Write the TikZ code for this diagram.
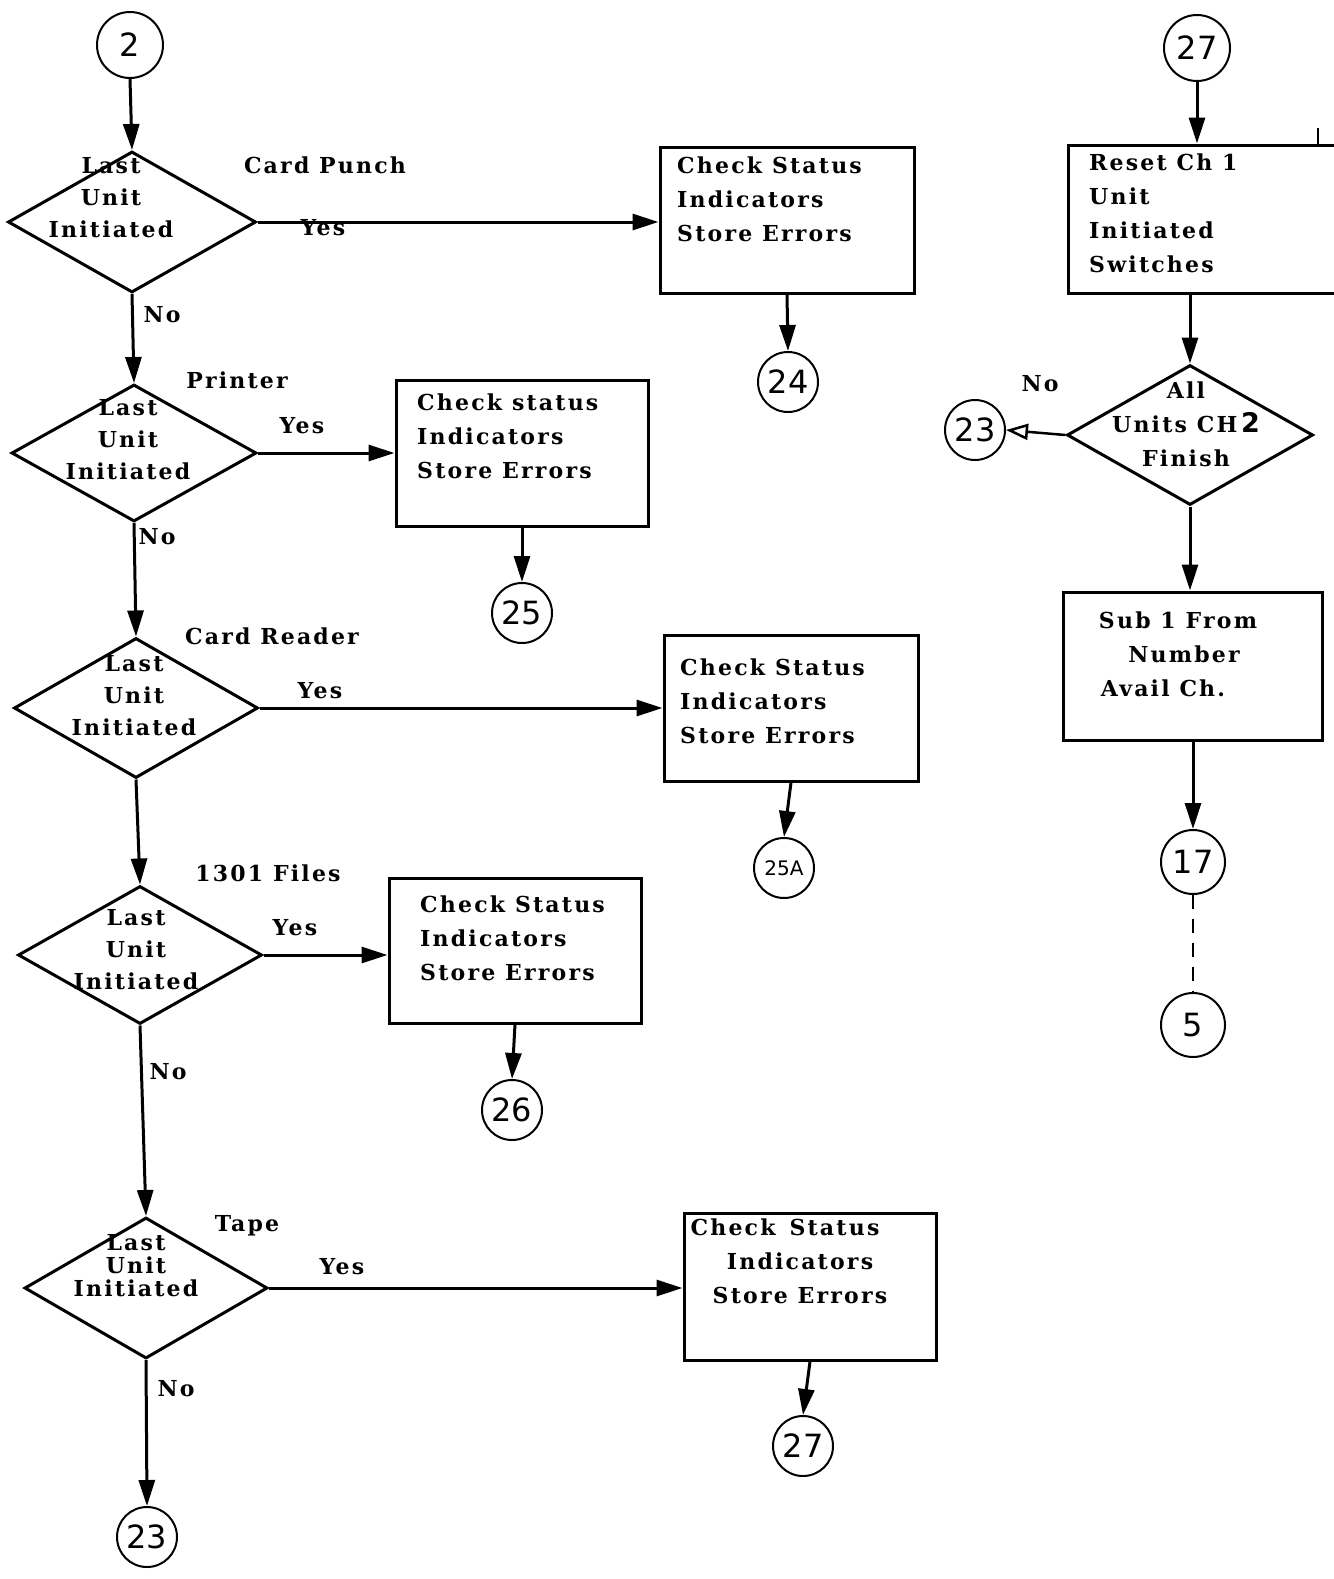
\documentclass[tikz,border=0pt]{standalone}
\usepackage{fontspec}
\setmainfont{DejaVu Serif}
\newfontfamily\lblfont[LetterSpace=10]{DejaVu Serif}
\newfontfamily\numfont{DejaVu Sans}
\usetikzlibrary{shapes.geometric,arrows.meta}
\begin{document}
\begin{tikzpicture}[x=1pt,y=-1pt,
  arr/.style={line width=3pt,-{Triangle[length=26pt,width=16pt]}},
  openarr/.style={line width=2.5pt,-{Triangle[open,length=22pt,width=16pt,line width=2.5pt]}},
  box/.style={draw,line width=3pt,rectangle,inner sep=0pt},
  dia/.style={draw,line width=3pt,diamond,inner sep=0pt},
  conn/.style={draw,circle,line width=2pt,inner sep=0pt,font=\numfont\fontsize{32}{32}\selectfont},
  txt/.style={font=\lblfont\bfseries\fontsize{22}{34}\selectfont,inner sep=0pt},
  dtxt/.style={font=\lblfont\bfseries\fontsize{22}{32}\selectfont,inner sep=0pt,align=center},
  ]
\useasboundingbox (0,0) rectangle (1333,1579);

% ---------- left column: diamonds ----------
\node[dia,minimum width=248pt,minimum height=141pt] (d1) at (132,222) {};
\node[dia,minimum width=245pt,minimum height=137pt] (d2) at (134,453) {};
\node[dia,minimum width=244pt,minimum height=140pt] (d3) at (136,708) {};
\node[dia,minimum width=244pt,minimum height=138pt] (d4) at (140,955) {};
\node[dia,minimum width=243pt,minimum height=141pt] (d5) at (146,1288) {};

\node[dtxt] (d1t) at (111,198) {Last\\Unit\\Initiated};
\node[dtxt] (d2t) at (128,440) {Last\\Unit\\Initiated};
\node[dtxt] (d3t) at (134,696) {Last\\Unit\\Initiated};
\node[dtxt] (d4t) at (136,950) {Last\\Unit\\Initiated};
\node[dtxt,font=\lblfont\bfseries\fontsize{22}{23}\selectfont] (d5t) at (136,1266) {Last\\Unit\\Initiated};

% ---------- boxes ----------
\node[box,minimum width=254pt,minimum height=146pt] (b1) at (787,220) {};
\node[box,minimum width=252pt,minimum height=146pt] (b2) at (522,453) {};
\node[box,minimum width=254pt,minimum height=146pt] (b3) at (791,708) {};
\node[box,minimum width=252pt,minimum height=145pt] (b4) at (515,950.5) {};
\node[box,minimum width=252pt,minimum height=147pt] (b5) at (810,1286.5) {};

\node[txt,align=left,anchor=north west] (b1t) at (677,157) {Check Status\\Indicators\\Store Errors};
\node[txt,align=left,anchor=north west] (b2t) at (417,394) {Check status\\Indicators\\Store Errors};
\node[txt,align=left,anchor=north west] (b3t) at (680,659) {Check Status\\Indicators\\Store Errors};
\node[txt,align=left,anchor=north west] (b4t) at (420,896) {Check Status\\Indicators\\Store Errors};
\node[txt,align=center,anchor=north] (b5t) at (800,1219) {Check\hspace{14pt}Status\hspace*{30pt}\\Indicators\\Store Errors};

% ---------- connectors (circles) ----------
\node[conn,minimum size=66pt] (c2) at (130,45) {2};
\node[conn,minimum size=60pt] (c24) at (788,382) {24};
\node[conn,minimum size=60pt] (c25) at (522,613) {25};
\node[conn,minimum size=60pt,font=\numfont\fontsize{20}{20}\selectfont] (c25a) at (784,868) {25A};
\node[conn,minimum size=60pt] (c26) at (512,1110) {26};
\node[conn,minimum size=60pt] (c27a) at (803,1446) {27};
\node[conn,minimum size=60pt] (c23a) at (147,1537) {23};

% ---------- labels ----------
\node[txt] (l1) at (325,165) {Card Punch};
\node[txt] (y1) at (323,228) {Yes};
\node[txt] (n1) at (162,315) {No};
\node[txt] (l2) at (237,380) {Printer};
\node[txt] (y2) at (302,426) {Yes};
\node[txt] (n2) at (157,537) {No};
\node[txt] (l3) at (272,636) {Card Reader};
\node[txt] (y3) at (320,691) {Yes};
\node[txt] (l4) at (268,873) {1301 Files};
\node[txt] (y4) at (295,928) {Yes};
\node[txt] (n4) at (168,1072) {No};
\node[txt] (l5) at (247,1226) {Tape};
\node[txt] (y5) at (342,1267) {Yes};
\node[txt] (n5) at (176,1389) {No};

% ---------- left column arrows ----------
\draw[arr] (c2.south) -- (d1.north);
\draw[arr] (d1.east) -- (d1.east -| b1.west);
\draw[arr] (b1.south) -- (c24.north);
\draw[arr] (d1.south) -- (d2.north);
\draw[arr] (d2.east) -- (d2.east -| b2.west);
\draw[arr] (b2.south) -- (c25.north);
\draw[arr] (d2.south) -- (d3.north);
\draw[arr] (d3.east) -- (d3.east -| b3.west);
\draw[arr] (b3.south) -- (c25a.north);
\draw[arr] (d3.south) -- (d4.north);
\draw[arr] (d4.east) -- (d4.east -| b4.west);
\draw[arr] (b4.south) -- (c26.north);
\draw[arr] (d4.south) -- (d5.north);
\draw[arr] (d5.east) -- (d5.east -| b5.west);
\draw[arr] (b5.south) -- (c27a.north);
\draw[arr] (d5.south) -- (c23a.north);

% ---------- right column ----------
\node[conn,minimum size=66pt] (c27b) at (1197,48) {27};
\node[box,minimum width=277pt,minimum height=148pt] (r1) at (1206.5,219) {};
\node[txt,align=left,anchor=north west] (r1t) at (1089,154) {Reset Ch 1\\Unit\\Initiated\\Switches};
\coordinate (tick1) at (1318,128);
\coordinate (tick2) at (1318,145);
\draw[line width=2pt] (tick1) -- (tick2);

\node[dia,minimum width=246pt,minimum height=140pt] (dr) at (1190,435) {};
\node[dtxt,font=\lblfont\bfseries\fontsize{22}{34}\selectfont] (drt) at (1186,424) {All\\Units CH\,{\numfont\bfseries\fontsize{27}{27}\selectfont 2}\\Finish};
\node[txt] (nr) at (1040,384) {No};
\node[conn,minimum size=60pt] (c23b) at (975,430) {23};

\node[box,minimum width=259pt,minimum height=148pt] (r2) at (1192.5,666) {};
\node[txt,align=center,anchor=north] (r2t) at (1178,612) {Sub 1 From\\\hspace*{12pt}Number\\\hspace*{-30pt}Avail Ch.};
\node[conn,minimum size=64pt] (c17) at (1193,862) {17};
\node[conn,minimum size=64pt] (c5) at (1193,1025) {5};

\draw[arr] (c27b.south) -- (r1.north -| c27b.south);
\draw[arr] (r1.south -| dr.north) -- (dr.north);
\draw[openarr] (dr.west) -- (c23b.east);
\draw[arr] (dr.south) -- (r2.north -| dr.south);
\draw[arr] (r2.south -| c17.north) -- (c17.north);
\draw[line width=2.5pt,dash pattern=on 14pt off 10pt] (c17.south) -- (c5.north);
\end{tikzpicture}
\end{document}
